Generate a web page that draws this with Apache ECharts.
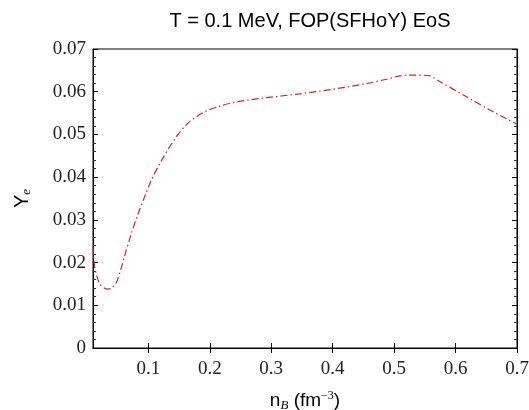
<!DOCTYPE html>
<html>
<head>
<meta charset="utf-8">
<script src="https://cdn.jsdelivr.net/npm/echarts@6/dist/echarts.min.js"></script>
<style>html,body{margin:0;padding:0;background:#fff}#c{width:529px;height:410px}</style>
</head>
<body>
<div id="c"></div>
<script>
const titleText = 'T = 0.1 MeV, FOP(SFHoY) EoS';
const nB = [0.010,0.0115,0.013,0.0154,0.0208,0.0289,0.034,0.0398,0.048,0.0561,0.0603,0.0724,0.0831,0.094,0.105,0.1212,0.1457,0.1673,0.1918,0.2134,0.243,0.292,0.346,0.401,0.455,0.490,0.509,0.524,0.555,0.574,0.618,0.656,0.700];
const Ye = [0.0237,0.0205,0.0188,0.0173,0.0150,0.0140,0.0138,0.0140,0.0153,0.0188,0.0210,0.0268,0.0313,0.0354,0.0393,0.0438,0.0495,0.0530,0.0553,0.0565,0.0576,0.0586,0.0595,0.0606,0.0619,0.0630,0.0637,0.0639,0.0638,0.0624,0.0588,0.0557,0.0524];
const xTicks = [0.1,0.2,0.3,0.4,0.5,0.6,0.7];
const xMin = 0.01, xMax = 0.7, yMin = 0, yMax = 0.07, yStep = 0.01;

const chart = echarts.init(document.getElementById('c'), null, {renderer:'canvas'});
const serif = 'Liberation Serif';
const sans = 'Liberation Sans';
const tickStyle = {show:true, inside:true, length:5, lineStyle:{color:'#000', width:1}};
const minorStyle = {show:true, splitNumber:5, length:3, lineStyle:{color:'#333', width:1}};
chart.setOption({
  animation:false,
  title:{text:titleText, left:305, textAlign:'center', top:6, textStyle:{fontFamily:sans, fontSize:20, fontWeight:'normal', color:'#000'}},
  grid:{left:93, right:12, top:49, bottom:62, show:true, borderColor:'#000', borderWidth:1, backgroundColor:'transparent', outerBoundsMode:'none', containLabel:false},
  xAxis:[{
    type:'value', min:xMin, max:xMax, position:'bottom',
    axisLine:{show:true, lineStyle:{color:'#000'}},
    axisTick:Object.assign({customValues:xTicks}, tickStyle),
    axisLabel:{customValues:xTicks, fontFamily:serif, fontSize:19, color:'#222', margin:12},
    splitLine:{show:false},
    name:'n{b|B} (fm{s|−3})', nameLocation:'middle', nameGap:42,
    nameTextStyle:{fontFamily:sans, fontSize:19, color:'#000',
      rich:{b:{fontFamily:serif, fontStyle:'italic', fontSize:13, padding:[9,0,0,0]},
            s:{fontFamily:serif, fontSize:12, padding:[0,0,10,0]}}}
  },{
    type:'value', min:xMin, max:xMax, position:'top',
    axisLine:{show:true, lineStyle:{color:'#000'}},
    axisTick:Object.assign({customValues:xTicks}, tickStyle),
    axisLabel:{show:false}, splitLine:{show:false}
  }],
  yAxis:[{
    type:'value', min:yMin, max:yMax, interval:yStep, position:'left',
    axisLine:{show:true, lineStyle:{color:'#000'}},
    axisTick:tickStyle, minorTick:minorStyle,
    axisLabel:{fontFamily:serif, fontSize:19, color:'#222', margin:7},
    splitLine:{show:false},
    name:'Y{e|e}', nameLocation:'middle', nameGap:60, nameRotate:90,
    nameTextStyle:{fontFamily:sans, fontSize:20, color:'#000',
      rich:{e:{fontFamily:serif, fontStyle:'italic', fontSize:13, padding:[9,0,0,0]}}}
  },{
    type:'value', min:yMin, max:yMax, interval:yStep, position:'right',
    axisLine:{show:true, lineStyle:{color:'#000'}},
    axisTick:tickStyle, minorTick:minorStyle,
    axisLabel:{show:false}, splitLine:{show:false}
  }],
  series:[{
    type:'line', data:nB.map((x,i)=>[x,Ye[i]]), showSymbol:false, smooth:0.3,
    clip:true,
    lineStyle:{color:'#dd1f26', width:1.2, type:[7,3,1.5,3]}
  }]
});
</script>
</body>
</html>
